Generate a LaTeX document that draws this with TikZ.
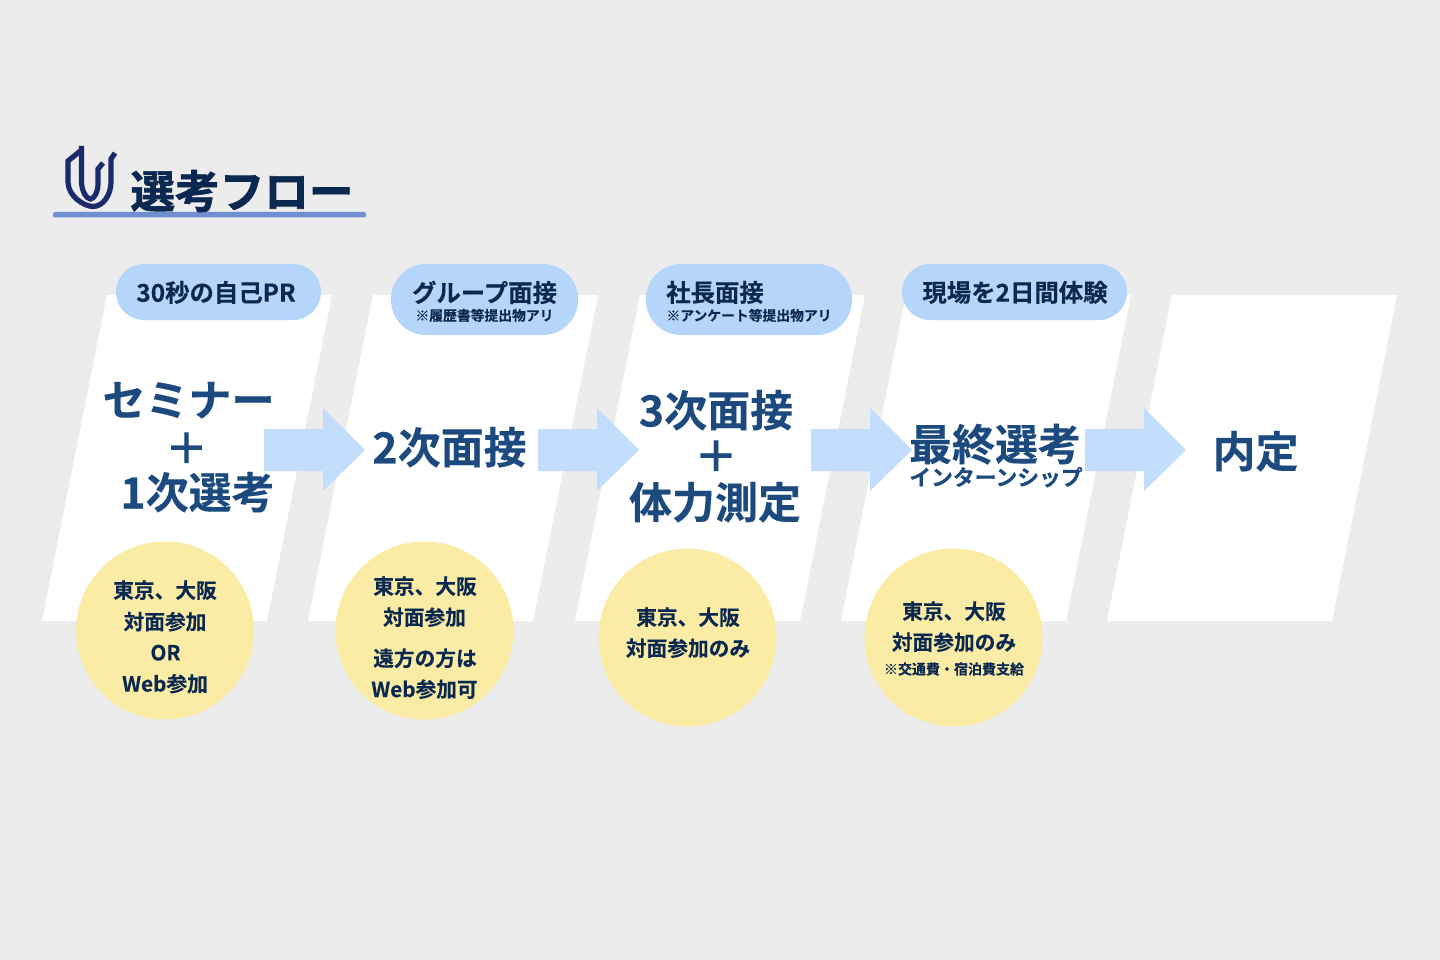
\documentclass[tikz,border=0pt]{standalone}
\usepackage{fontspec}
\setmainfont{Noto Sans CJK JP}[BoldFont=* Bold,BoldFeatures={FakeBold=0.25}]
\newfontfamily\heavyjp{Noto Sans CJK JP}[UprightFont=* Bold,FakeBold=1.6]
\definecolor{bgc}{HTML}{ECECEC}
\definecolor{mainc}{HTML}{1C4A7E}
\definecolor{darkc}{HTML}{0A2850}
\definecolor{pillc}{HTML}{B5D5FB}
\definecolor{arrowc}{HTML}{C3DDFD}
\definecolor{circc}{HTML}{FAECA5}
\definecolor{rulec}{HTML}{6F8FD2}
\definecolor{logoc}{HTML}{1B2A6B}
\newcommand{\fs}[1]{\fontsize{#1}{#1}\selectfont\bfseries}
\tikzset{
 x=1pt,y=-1pt,
 panel/.style={fill=white,draw=none},
 pill/.style={fill=pillc,draw=none},
 blockarrow/.style={fill=arrowc,draw=none},
 circ/.style={circle,fill=circc,draw=none,minimum size=178pt,inner sep=0pt},
 big/.style={text=mainc,font=\fs{43},inner sep=0pt,anchor=center,yshift=0.8pt},
 pilltext/.style={text=darkc,font=\fs{24.4},inner sep=0pt,anchor=center,yshift=0.6pt},
 pillsub/.style={text=darkc,font=\fs{13.8},inner sep=0pt,anchor=center,yshift=0.6pt},
 circtext/.style={text=darkc,font=\fs{20.7},inner sep=0pt,anchor=center,yshift=0.8pt},
 circsub/.style={text=darkc,font=\fs{14},inner sep=0pt,anchor=center},
 logostroke/.style={draw=logoc,line width=5.2pt,line join=miter,line cap=butt},
}
\newcommand{\panelat}[1]{\fill[panel] (#1+42,621) -- (#1+267,621) -- (#1+332,295) -- (#1+107,295) -- cycle;}
\newcommand{\arrowat}[1]{\fill[blockarrow] (#1,429) -- (#1+59,429) -- (#1+59,408) -- (#1+101,450) -- (#1+59,491) -- (#1+59,471) -- (#1,471) -- cycle;}
\newcommand{\pillat}[4]{\fill[pill,rounded corners=#4] (#1,264) rectangle (#2,#3);}
\begin{document}
\begin{tikzpicture}
\useasboundingbox (0,0) rectangle (1440,960);
\fill[bgc] (0,0) rectangle (1440,960);
% panels
\panelat{0}\panelat{266}\panelat{533}\panelat{799}\panelat{1065}
% header rule
\fill[rulec,rounded corners=2pt] (53,212) rectangle (366,217.5);
% logo
\draw[logostroke] (81.5,150) -- (68,161) -- (68,182) .. controls (68,196) and (84,206.5) .. (93,206.5) .. controls (103,206.5) and (111,195) .. (111,182) -- (111,159) -- (115,153);
\draw[logostroke] (81.5,146) -- (81.5,181) .. controls (81.5,192) and (87,199) .. (90.5,199) .. controls (94,199) and (98,192) .. (98,184) -- (98,169) -- (103,163);
\node[text=darkc,inner sep=0pt,font=\heavyjp\fontsize{44.6}{44.6}\selectfont] (title) at (242,191) {選考フロー};
% arrows
\arrowat{264}\arrowat{538}\arrowat{811}\arrowat{1085}
% pills
\pillat{116}{321}{320}{28pt}
\pillat{391}{578}{335}{35pt}
\pillat{646}{852}{335}{35pt}
\pillat{902}{1127}{320}{28pt}
\node[pilltext] (p1) at (216,293) {30秒の自己PR};
\node[pilltext] (p2) at (484.5,293) {グループ面接};
\node[pillsub] (p2s) at (484.5,316) {※履歴書等提出物アリ};
\node[pilltext] (p3) at (715,293) {社長面接};
\node[pillsub] (p3s) at (749,316) {※アンケート等提出物アリ};
\node[pilltext] (p4) at (1015,293) {現場を2日間体験};
% main labels
\node[big] (a1) at (188.5,401) {セミナー};
\node[big] (a2) at (186.5,449) {＋};
\node[big] (a3) at (197.5,493) {1次選考};
\node[big] (b1) at (449.5,448) {2次面接};
\node[big] (c1) at (716,411) {3次面接};
\node[big] (c2) at (716,457) {＋};
\node[big] (c3) at (715,503) {体力測定};
\node[big] (d1) at (995,445) {最終選考};
\node[big,font=\fs{21.8}] (d2) at (996,478) {インターンシップ};
\node[big] (e1) at (1255.5,452) {内定};
% circles
\node[circ] (k1) at (165,630.5) {};
\node[circ] (k2) at (424.5,630.5) {};
\node[circ] (k3) at (687.5,637.5) {};
\node[circ] (k4) at (953.5,637.5) {};
\node[circtext] (t11) at (165,591) {東京、大阪};
\node[circtext] (t12) at (165,622.5) {対面参加};
\node[circtext] (t13) at (165.5,653.5) {OR};
\node[circtext] (t14) at (165,684.5) {Web参加};
\node[circtext] (t21) at (425,587) {東京、大阪};
\node[circtext] (t22) at (424.5,618) {対面参加};
\node[circtext] (t23) at (425,659) {遠方の方は};
\node[circtext] (t24) at (424.5,690) {Web参加可};
\node[circtext] (t31) at (688,618) {東京、大阪};
\node[circtext] (t32) at (688,649) {対面参加のみ};
\node[circtext] (t41) at (954,612) {東京、大阪};
\node[circtext] (t42) at (954,643) {対面参加のみ};
\node[circsub] (t43) at (954,669) {※交通費・宿泊費支給};
\end{tikzpicture}
\end{document}
